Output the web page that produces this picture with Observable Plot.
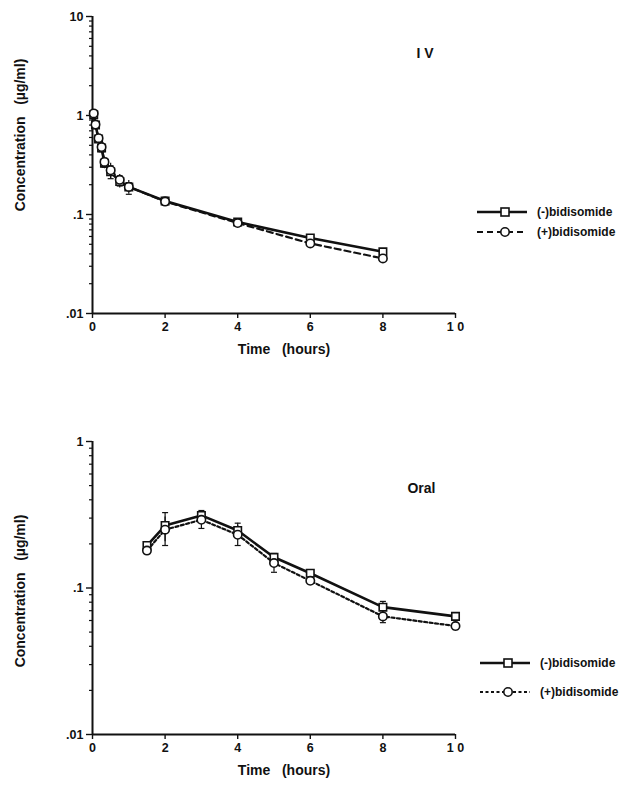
<!DOCTYPE html>
<html>
<head>
<meta charset="utf-8">
<script src="https://cdn.jsdelivr.net/npm/d3@7"></script>
<script src="https://cdn.jsdelivr.net/npm/@observablehq/plot@0.6"></script>
<style>
  body { margin: 0; background: #fff; font-family: "Liberation Sans", Arial, sans-serif; }
  #wrap { position: relative; width: 627px; height: 793px; }
  #wrap svg { display: block; }
  .legend { position: absolute; font: bold 12px "Liberation Sans", Arial, sans-serif; color: #111; }
  .legend .row { display: flex; align-items: center; }
  .legend svg { margin-right: 10px; }
</style>
</head>
<body>
<div id="wrap"></div>
<script>
// ---------- data ----------
const ivTime   = [0.033, 0.083, 0.167, 0.25, 0.33, 0.5, 0.75, 1, 2, 4, 6, 8];
const ivMinus  = [1.02, 0.80, 0.58, 0.47, 0.33, 0.27, 0.215, 0.19, 0.137, 0.084, 0.058, 0.042];
const ivMinusSd= [0.06, 0.05, 0.05, 0.05, 0.04, 0.04, 0.03, 0.02, 0.012, 0.004, 0.003, 0.002];
const ivPlus   = [1.05, 0.81, 0.59, 0.48, 0.34, 0.28, 0.224, 0.19, 0.135, 0.082, 0.051, 0.036];
const ivPlusSd = [0.05, 0.05, 0.04, 0.05, 0.04, 0.05, 0.03, 0.03, 0.01, 0.004, 0.003, 0.002];

const oralTime    = [1.5, 2, 3, 4, 5, 6, 8, 10];
const oralMinus   = [0.195, 0.267, 0.313, 0.247, 0.162, 0.126, 0.074, 0.064];
const oralMinusSd = [0.008, 0.06, 0.025, 0.03, 0.01, 0.005, 0.007, 0.003];
const oralPlus    = [0.18, 0.25, 0.292, 0.231, 0.148, 0.112, 0.064, 0.055];
const oralPlusSd  = [0.006, 0.055, 0.037, 0.036, 0.02, 0.005, 0.006, 0.003];

const seriesNames = ["(-)bidisomide", "(+)bidisomide"];
const xTicks = [0, 2, 4, 6, 8, 10];
const xTickLabels = ["0", "2", "4", "6", "8", "1 0"];
const ivYTicks = [0.01, 0.1, 1, 10];
const oralYTicks = [0.01, 0.1, 1];
const yTickLabels = {0.01: ".01", 0.1: ".1", 1: "1", 10: "10"};
const yTitle = "Concentration   (µg/ml)";
const xTitle = "Time   (hours)";

function rows(t, v, sd) { return t.map((x, i) => ({t: x, v: v[i], lo: v[i] - sd[i], hi: v[i] + sd[i]})); }
function minorTicks(lo, hi) {
  const out = [];
  for (let d = lo; d < hi; d *= 10) for (let k = 2; k <= 9; k++) out.push(d * k);
  return out;
}
const capSymbol = {draw(ctx, size) { const r = Math.sqrt(size / Math.PI); ctx.moveTo(-r, 0); ctx.lineTo(r, 0); }};

const FONT = '"Liberation Sans", Arial, sans-serif';

function panel({minus, plus, yDomain, yTicks, height, marginTop, marginBottom, plusDash, title, titleDy, titleDx, yTitleDy}) {
  return Plot.plot({
    width: 627, height, marginLeft: 92, marginRight: 172, marginTop, marginBottom,
    style: {fontFamily: FONT, fontSize: "12px", fontWeight: "bold", color: "#111", background: "white"},
    x: {type: "linear", domain: [0, 10]},
    y: {type: "log", domain: yDomain},
    marks: [
      Plot.axisY({ticks: minorTicks(yDomain[0], yDomain[1]), tickSize: 3, text: null, label: null, strokeWidth: 1.2}),
      Plot.axisY({ticks: yTicks, tickSize: 6, tickFormat: d => yTickLabels[d], fontSize: 12.5, fontWeight: "bold",
        label: null, strokeWidth: 1.4}),
      Plot.axisX({ticks: xTicks, tickSize: 5, tickFormat: (d, i) => xTickLabels[i], tickPadding: 4, fontSize: 12.5, fontWeight: "bold",
        label: null, strokeWidth: 1.4}),
      Plot.text([yTitle], {frameAnchor: "left", rotate: -90, dx: -72, dy: yTitleDy, fontSize: 14, fontWeight: "bold", textAnchor: "middle"}),
      Plot.text([xTitle], {frameAnchor: "bottom", dx: 10, dy: 40, fontSize: 14, fontWeight: "bold", textAnchor: "middle"}),
      Plot.ruleY([yDomain[0]], {stroke: "#111", strokeWidth: 2}),
      Plot.ruleX([0], {stroke: "#111", strokeWidth: 2}),
      // error bars
      Plot.ruleX(minus, {x: "t", y1: "lo", y2: "hi", stroke: "#111", strokeWidth: 1.2}),
      Plot.ruleX(plus, {x: "t", y1: "lo", y2: "hi", stroke: "#111", strokeWidth: 1.2}),
      Plot.dot(minus, {x: "t", y: "hi", symbol: capSymbol, r: 3, stroke: "#111", strokeWidth: 1.2, fill: "none"}),
      Plot.dot(plus, {x: "t", y: "lo", symbol: capSymbol, r: 3, stroke: "#111", strokeWidth: 1.2, fill: "none"}),
      // lines
      Plot.line(minus, {x: "t", y: "v", stroke: "#111", strokeWidth: 2.6}),
      Plot.line(plus, {x: "t", y: "v", stroke: "#111", strokeWidth: 2.2, strokeDasharray: plusDash}),
      // markers
      Plot.dot(minus, {x: "t", y: "v", symbol: "square", r: 4.2, fill: "white", stroke: "#111", strokeWidth: 1.6}),
      Plot.dot(plus, {x: "t", y: "v", symbol: "circle", r: 4.2, fill: "white", stroke: "#111", strokeWidth: 1.6}),
      Plot.text([title], {frameAnchor: "top-right", dx: titleDx, dy: titleDy, fontSize: 14, fontWeight: "bold", textAnchor: "end"})
    ]
  });
}

const wrap = document.getElementById("wrap");
const iv = panel({
  minus: rows(ivTime, ivMinus, ivMinusSd), plus: rows(ivTime, ivPlus, ivPlusSd),
  yDomain: [0.01, 10], yTicks: ivYTicks, height: 380, marginTop: 16, marginBottom: 67,
  plusDash: "6,4", title: "I V", titleDy: 32, titleDx: -22, yTitleDy: -30
});
const oral = panel({
  minus: rows(oralTime, oralMinus, oralMinusSd), plus: rows(oralTime, oralPlus, oralPlusSd),
  yDomain: [0.01, 1], yTicks: oralYTicks, height: 413, marginTop: 61, marginBottom: 59,
  plusDash: "3,2.5", title: "Oral", titleDy: 42, titleDx: -20, yTitleDy: 3
});
wrap.appendChild(iv);
wrap.appendChild(oral);

function legend(top, left, rowH, dash) {
  const div = document.createElement("div");
  div.className = "legend";
  div.style.left = left + "px";
  div.style.top = top + "px";
  const sample = (isSquare) => {
    const w = 50, h = 14;
    const line = `<line x1="0" x2="${w}" y1="7" y2="7" stroke="#111" stroke-width="${isSquare ? 2.6 : 2.2}" ${isSquare ? "" : `stroke-dasharray="${dash}"`}/>`;
    const mark = isSquare
      ? `<rect x="${w/2-1}" y="3" width="8" height="8" fill="white" stroke="#111" stroke-width="1.6"/>`
      : `<circle cx="${w/2+3}" cy="7" r="4.2" fill="white" stroke="#111" stroke-width="1.6"/>`;
    return `<svg width="${w}" height="${h}">${line}${mark}</svg>`;
  };
  div.innerHTML = seriesNames.map((n, i) => `<div class="row" style="height:${rowH}px">${sample(i === 0)}<span>${n}</span></div>`).join("");
  wrap.appendChild(div);
}
legend(202, 477, 20, "6,4");
legend(648, 480, 29, "3,2.5");
</script>
</body>
</html>
